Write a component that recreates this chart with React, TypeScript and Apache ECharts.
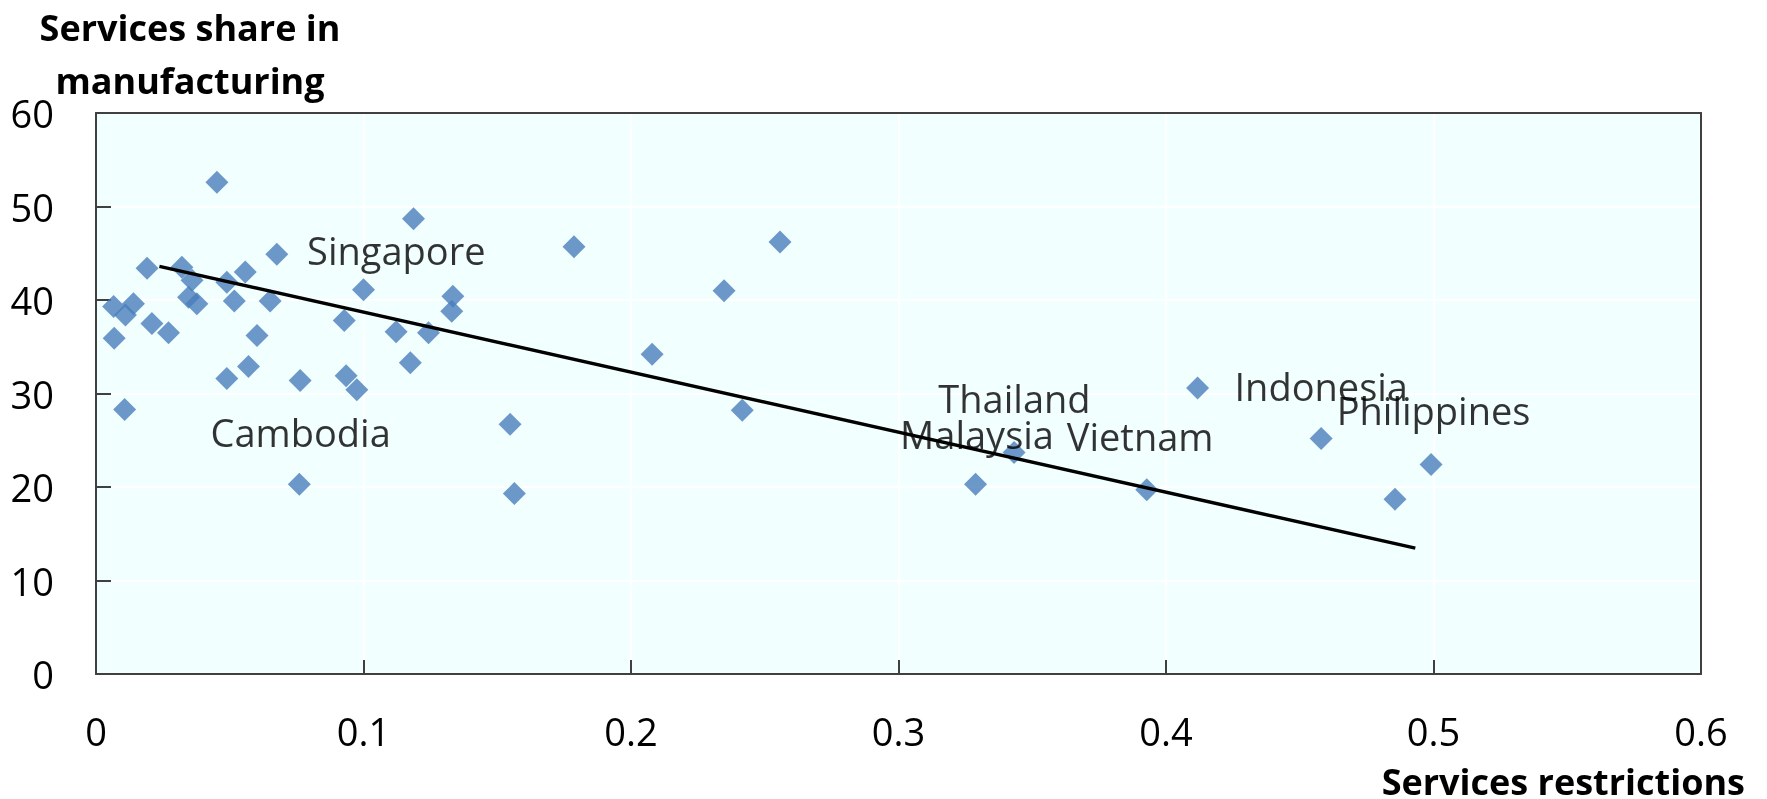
import React, { useEffect, useRef } from "react";
import * as echarts from "echarts";

// Services restrictions (x) and services share in manufacturing (y)
const restrictions = [
  0.0452, 0.1187, 0.0676, 0.0191, 0.0321, 0.0359, 0.0558, 0.0489, 0.1, 0.1334,
  0.133, 0.0066, 0.014, 0.011, 0.0346, 0.0377, 0.0517, 0.0651, 0.0928, 0.0209,
  0.0271, 0.1122, 0.1243, 0.0602, 0.0068, 0.1175, 0.057, 0.0489, 0.0763, 0.0935,
  0.0975, 0.0107, 0.076, 0.1548, 0.1564, 0.1787, 0.2557, 0.2348, 0.2079, 0.2416,
  0.3288, 0.3432, 0.3928, 0.4118, 0.458, 0.4856, 0.4991,
];
const servicesShare = [
  52.6, 48.7, 44.9, 43.4, 43.5, 42.1, 43.0, 41.9, 41.1, 40.4,
  38.8, 39.3, 39.6, 38.4, 40.3, 39.6, 39.9, 39.9, 37.8, 37.5,
  36.5, 36.6, 36.5, 36.2, 35.9, 33.3, 32.9, 31.6, 31.4, 31.9,
  30.4, 28.3, 20.3, 26.7, 19.3, 45.7, 46.2, 41.0, 34.2, 28.2,
  20.3, 23.7, 19.7, 30.6, 25.2, 18.7, 22.4,
];

// Trend line end points
const trendX = [0.0237, 0.4932];
const trendY = [43.6, 13.46];

// Country annotations: text and anchor (left, middle) in data coordinates
const labelNames = ["Singapore", "Cambodia", "Thailand", "Malaysia", "Vietnam", "Indonesia", "Philippines"];
const labelX = [0.0789, 0.0428, 0.3149, 0.3006, 0.3629, 0.4256, 0.4638];
const labelY = [45.34, 25.9, 29.5, 25.65, 25.5, 30.8, 28.2];

const xTickLabels = ["0", "0.1", "0.2", "0.3", "0.4", "0.5", "0.6"];
const yTickLabels = ["0", "10", "20", "30", "40", "50", "60"];

const yTitle = ["Services share in", "manufacturing"];
const xTitle = "Services restrictions";

const FONT = "'Open Sans', 'Liberation Sans', sans-serif";

export default function App() {
  const ref = useRef<HTMLDivElement>(null);

  useEffect(() => {
    if (!ref.current) return;
    const chart = echarts.init(ref.current, null, { renderer: "svg" });

    const points = restrictions.map((x, i) => [x, servicesShare[i]]);
    const trend = trendX.map((x, i) => [x, trendY[i]]);
    const labels = labelNames.map((n, i) => [labelX[i], labelY[i], n]);

    const axisColor = "#404040";
    const frameAxis = {
      type: "value",
      axisLine: { show: true, onZero: false, lineStyle: { color: axisColor, width: 2 } },
      axisTick: { show: false },
      axisLabel: { show: false },
      splitLine: { show: false },
    };

    chart.setOption({
      animation: false,
      textStyle: { fontFamily: FONT },
      grid: {
        left: 96,
        right: 66,
        top: 113,
        bottom: 125,
        show: true,
        backgroundColor: "#F2FFFF",
        borderWidth: 0,
      },
      xAxis: [
        {
          type: "value",
          min: 0,
          max: 0.6,
          interval: 0.1,
          axisLine: { show: true, lineStyle: { color: axisColor, width: 2 } },
          axisTick: { show: true, inside: true, length: 14, lineStyle: { color: axisColor, width: 2 } },
          splitLine: { show: true, lineStyle: { color: "#FFFFFF", width: 2 } },
          axisLabel: {
            margin: 38,
            fontSize: 38,
            color: "#000",
            fontFamily: FONT,
            formatter: (v: number) => xTickLabels[Math.round(v / 0.1)] ?? String(v),
          },
        },
        { ...frameAxis, position: "top", min: 0, max: 0.6, interval: 0.1, z: 5 },
      ],
      yAxis: [
        {
          type: "value",
          min: 0,
          max: 60,
          interval: 10,
          axisLine: { show: true, lineStyle: { color: axisColor, width: 2 } },
          axisTick: { show: true, inside: true, length: 15, lineStyle: { color: axisColor, width: 2 } },
          splitLine: { show: true, lineStyle: { color: "#FFFFFF", width: 2 } },
          axisLabel: {
            margin: 42,
            fontSize: 38,
            color: "#000",
            fontFamily: FONT,
            formatter: (v: number) => yTickLabels[Math.round(v / 10)] ?? String(v),
          },
        },
        { ...frameAxis, position: "right", min: 0, max: 60, interval: 10, z: 5 },
      ],
      graphic: [
        {
          type: "text",
          x: 190,
          y: 27,
          style: {
            text: yTitle[0],
            textAlign: "center",
            textVerticalAlign: "middle",
            font: `bold 36px ${FONT}`,
            fill: "#000",
          },
        },
        {
          type: "text",
          x: 190,
          y: 80,
          style: {
            text: yTitle[1],
            textAlign: "center",
            textVerticalAlign: "middle",
            font: `bold 36px ${FONT}`,
            fill: "#000",
          },
        },
        {
          type: "text",
          x: 1745,
          y: 781,
          style: {
            text: xTitle,
            textAlign: "right",
            textVerticalAlign: "middle",
            font: `bold 36px ${FONT}`,
            fill: "#000",
          },
        },
      ],
      series: [
        {
          type: "scatter",
          data: points,
          symbol: "diamond",
          symbolSize: 23,
          itemStyle: { color: "#4A7EBB" },
          z: 2,
        },
        {
          type: "line",
          data: trend,
          symbol: "none",
          lineStyle: { color: "#000", width: 3.5 },
          z: 3,
        },
        {
          type: "scatter",
          data: labels,
          symbol: "circle",
          symbolSize: 0,
          itemStyle: { color: "rgba(0,0,0,0)" },
          z: 4,
          label: {
            show: true,
            position: "right",
            distance: 0,
            fontSize: 38,
            color: "#000",
            textBorderWidth: 0,
            textBorderColor: "transparent",
            fontFamily: FONT,
            formatter: (p: any) => p.data[2],
          },
        },
      ],
    });

    return () => chart.dispose();
  }, []);

  return (
    <div
      ref={ref}
      style={{ position: "fixed", left: 0, top: 0, width: 1767, height: 799 }}
    />
  );
}
